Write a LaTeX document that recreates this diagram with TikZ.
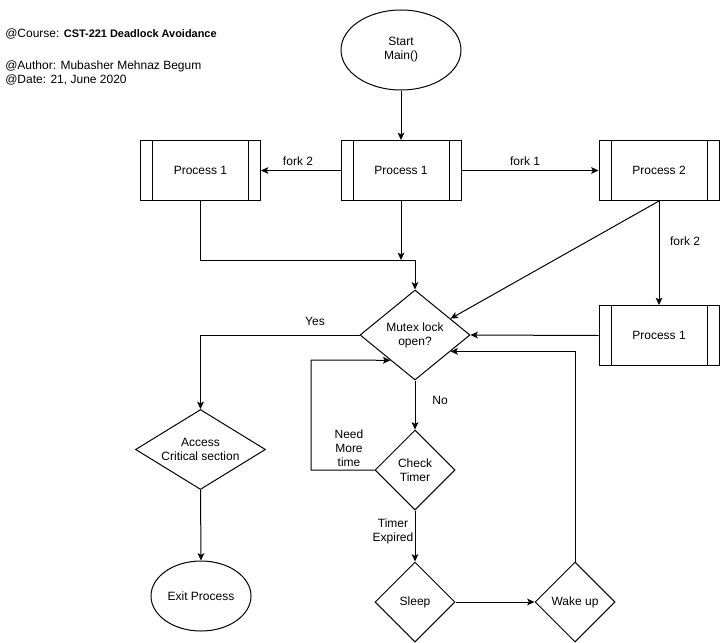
\documentclass[tikz,border=0pt]{standalone}
\usepackage{fontspec}
\setmainfont{Liberation Sans}
\usetikzlibrary{shapes.geometric,arrows.meta,calc}
% zero-width text line, so that the shape size is set by its minimum size alone
\newcommand\zwline[1]{\makebox[0pt]{#1}}
\begin{document}
\begin{tikzpicture}[x=0.75pt,y=-0.75pt,
  every node/.style={font=\fontsize{9pt}{10.5pt}\selectfont, inner sep=0pt, align=center},
  line/.style={line width=0.75pt, draw=black},
  arr/.style={line, -{Stealth[length=5.5pt,width=5pt,inset=1.3pt]}},
  oval/.style={ellipse, line, minimum width=#1},
  procbox/.style={rectangle, line, minimum width=90pt, minimum height=45pt,
    path picture={
      \draw[line width=0.75pt] ([xshift=9pt]path picture bounding box.north west) -- ([xshift=9pt]path picture bounding box.south west);
      \draw[line width=0.75pt] ([xshift=-9pt]path picture bounding box.north east) -- ([xshift=-9pt]path picture bounding box.south east);
    }},
  decision/.style={diamond, line, aspect=1},
  lbl/.style={fill=none},
  head/.style={anchor=west, font=\fontsize{9pt}{10.5pt}\selectfont, align=left}
]
\useasboundingbox (0,0) rectangle (720,642);

% header
\node[head] (course) at (5,34) {@Course: {\fontsize{8.2pt}{10pt}\selectfont\bfseries CST-221 Deadlock Avoidance}};
\node[head] (author) at (5,66) {@Author: Mubasher Mehnaz Begum};
\node[head] (date) at (5,80) {@Date: 21, June 2020};

% nodes
\node[oval=90pt, minimum height=60pt] (start) at (401,50) {\zwline{Start}\\\zwline{Main()}};
\node[procbox] (pm) at (401,170.5) {Process 1};
\node[procbox] (pl) at (200.5,170.5) {Process 1};
\node[procbox] (p2) at (659,170.5) {Process 2};
\node[procbox] (pr) at (659,335.5) {Process 1};
\node[decision, minimum width=82.5pt, minimum height=67.5pt] (mx) at (415,335) {\zwline{Mutex lock}\\\zwline{open?}};
\node[decision, minimum width=97.5pt, minimum height=60pt] (acc) at (200.5,449.5) {\zwline{Access}\\\zwline{Critical section}};
\node[oval=75pt, minimum height=52.5pt] (exit) at (201,596) {\zwline{Exit Process}};
\node[decision, minimum width=60pt, minimum height=60pt] (ct) at (415,470) {\zwline{Check}\\\zwline{Timer}};
\node[decision, minimum width=60pt, minimum height=60pt] (sl) at (415,602) {\zwline{Sleep}};
\node[decision, minimum width=60pt, minimum height=60pt] (wk) at (575,602) {\zwline{Wake up}};

% helper points
\coordinate (join) at (415,260);
\coordinate (loop) at (311,360);

% connectors
\draw[arr] (start) -- (pm);
\draw[arr] (pm.west) -- (pl.east);
\draw[arr] (pm.east) -- (p2.west);
\draw[arr] (pm.south) -- (pm.south |- join);
\draw[arr] (pl.south) |- (join) -- (mx.north);
\draw[arr] (p2.south) -- ($(mx.north)!0.64!(mx.east)$);
\draw[arr] (p2.south) -- (pr.north);
\draw[arr] (pr.west) -- (mx.east);
\draw[arr] (wk.north) |- ($(mx.east)!0.36!(mx.south)$);
\draw[arr] (mx.south) -- (ct.north);
\draw[arr] (ct.west) -| (loop) -- ($(mx.west)!0.556!(mx.south)$);
\draw[arr] (ct.south) -- (sl.north);
\draw[arr] (sl.east) -- (wk.west);
\draw[arr] (mx.west) -| (acc.north);
\draw[arr] (acc.south) -- (exit.north);

% connector labels
\node[lbl] (lfork2a) at (298,161) {fork 2};
\node[lbl] (lfork1) at (525,161) {fork 1};
\node[lbl] (lfork2b) at (685,241) {fork 2};
\node[lbl] (lyes) at (315,321) {Yes};
\node[lbl] (lno) at (440,400) {No};
\node[lbl] (lmore) at (349,448) {Need\\More\\time};
\node[lbl] (lexp) at (393,531) {Timer\\Expired};
\end{tikzpicture}
\end{document}
